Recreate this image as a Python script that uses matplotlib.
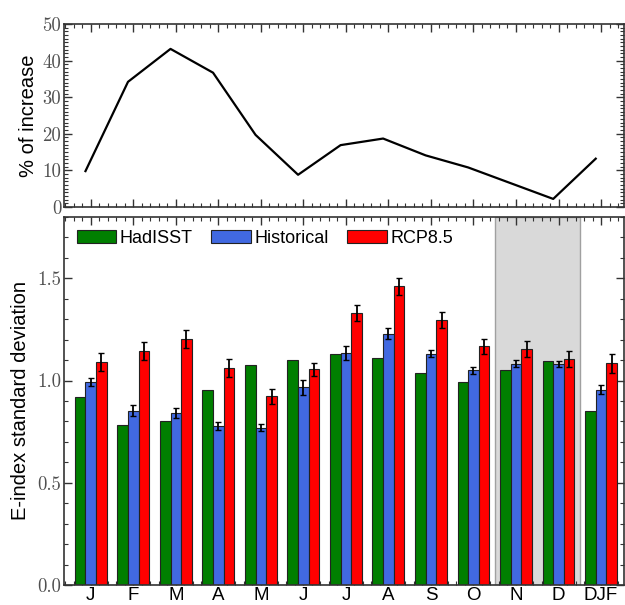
import numpy as np
import matplotlib
matplotlib.use('Agg')
import matplotlib.pyplot as plt
from matplotlib.ticker import MultipleLocator

months = ['J', 'F', 'M', 'A', 'M', 'J', 'J', 'A', 'S', 'O', 'N', 'D', 'DJF']

# % of increase (top panel)
increase = [9.8, 34.2, 43.2, 36.7, 19.7, 8.8, 16.9, 18.7, 14.1, 10.8, 6.5, 2.2, 13.2]

# E-index standard deviation (bottom panel)
hadisst = [0.921, 0.782, 0.800, 0.954, 1.075, 1.100, 1.129, 1.109, 1.036, 0.992, 1.050, 1.095, 0.851]
hist = [0.992, 0.853, 0.841, 0.777, 0.769, 0.966, 1.136, 1.229, 1.132, 1.049, 1.083, 1.080, 0.956]
hist_err = [0.021, 0.028, 0.026, 0.020, 0.017, 0.036, 0.034, 0.028, 0.017, 0.015, 0.015, 0.016, 0.023]
rcp = [1.090, 1.145, 1.203, 1.060, 0.923, 1.054, 1.332, 1.461, 1.296, 1.167, 1.155, 1.104, 1.085]
rcp_err = [0.044, 0.044, 0.046, 0.043, 0.037, 0.033, 0.039, 0.041, 0.037, 0.036, 0.039, 0.040, 0.046]

x = np.arange(len(months))
w = 0.25
spine_c = '#333333'

fig = plt.figure(figsize=(6.25, 6.05), dpi=100)
ax1 = fig.add_axes([0.1024, 0.6579, 0.896, 0.3024])
ax2 = fig.add_axes([0.1024, 0.0331, 0.896, 0.6083])

# top panel
ax1.plot(x - 0.125, increase, color='k', lw=1.6)
ax1.set_ylim(0, 50)
ax1.set_xlim(-0.63, 12.54)
ax1.set_ylabel('% of increase', fontsize=14.5, family='Liberation Sans', labelpad=3)
ax1.set_xticks(x)
ax1.set_xticklabels([])
ax1.yaxis.set_major_locator(MultipleLocator(10))
ax1.yaxis.set_minor_locator(MultipleLocator(1))
ax1.xaxis.set_minor_locator(MultipleLocator(0.2))

# bottom panel
ax2.axvspan(9.5, 11.5, facecolor='#d9d9d9', edgecolor='#a0a0a0', lw=1, zorder=0)
ax2.bar(x - w, hadisst, w, color='#007f00', edgecolor='#222222', lw=0.8, label='HadISST', zorder=2)
ax2.bar(x, hist, w, color='#4169e1', edgecolor='#222222', lw=0.8, label='Historical', zorder=2)
ax2.bar(x + w, rcp, w, color='#ff0000', edgecolor='#222222', lw=0.8, label='RCP8.5', zorder=2)
ax2.errorbar(x, hist, yerr=hist_err, fmt='none', ecolor='k', elinewidth=1.3, capsize=2, capthick=1, zorder=3)
ax2.errorbar(x + w, rcp, yerr=rcp_err, fmt='none', ecolor='k', elinewidth=1.3, capsize=2, capthick=1, zorder=3)
ax2.set_ylim(0, 1.8)
ax2.set_xlim(-0.63, 12.54)
ax2.set_xticks(x)
ax2.set_xticklabels(months, fontsize=13.5, family='Liberation Sans')
ax2.set_ylabel('E-index standard deviation', fontsize=14.5, family='Liberation Sans', labelpad=5)
ax2.yaxis.set_major_locator(MultipleLocator(0.5))
ax2.yaxis.set_minor_locator(MultipleLocator(0.1))
ax2.xaxis.set_minor_locator(MultipleLocator(0.2))
ax2.legend(loc='upper left', ncol=3, frameon=False, prop={'family': 'Liberation Sans', 'size': 13},
           handlelength=2.2, handleheight=0.7, handletextpad=0.2, columnspacing=1.0,
           borderaxespad=0.3, bbox_to_anchor=(0.0, 1.0))

for ax in (ax1, ax2):
    for s in ax.spines.values():
        s.set_color(spine_c)
        s.set_linewidth(1.2)
    ax.tick_params(which='both', direction='in', top=True, right=True, colors=spine_c)
    ax.tick_params(which='major', length=6, width=1)
    ax.tick_params(which='minor', length=3, width=0.8)
    ax.tick_params(axis='y', labelsize=13.5, labelfontfamily='cmr10', labelcolor='#505050', pad=2)
    ax.tick_params(axis='x', labelcolor='k', pad=1.5)

ax2.yaxis.set_major_formatter(matplotlib.ticker.FormatStrFormatter('%.1f'))

fig.savefig('out.png', dpi=100)
